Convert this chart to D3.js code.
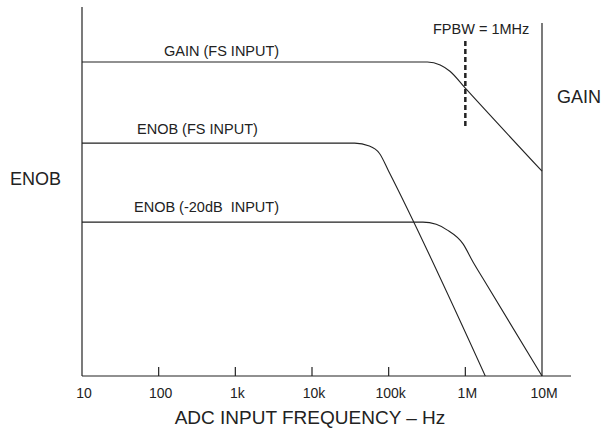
<!DOCTYPE html>
<html>
<head>
<meta charset="utf-8">
<script src="https://cdn.jsdelivr.net/npm/d3@7"></script>
<style>
  html, body { margin: 0; padding: 0; background: #fff; }
  svg { display: block; font-family: "Liberation Sans", Arial, sans-serif; }
</style>
</head>
<body>
<div id="chart"></div>
<script>
// tick labels along the frequency axis
const tickFreqs = [10, 100, 1e3, 1e4, 1e5, 1e6, 1e7];
const tickLabels = ["10", "100", "1k", "10k", "100k", "1M", "10M"];

// curves: frequency (Hz) and relative level (arbitrary units, 0 = bottom axis)
const gainFreq  = [10, 3.2e5, 4.7e5, 6.3e5, 1e6, 1e7];
const gainVal   = [85.1, 85.1, 84.3, 82.6, 78.0, 55.5];
const enobFsFreq = [10, 3.6e4, 5.6e4, 7.6e4, 1e5, 1.82e6];
const enobFsVal  = [63.1, 63.1, 62.3, 60.3, 55.5, 0];
const enob20Freq = [10, 2.8e5, 4.17e5, 5.75e5, 9.33e5, 1.26e6, 1.7e6, 1e7];
const enob20Val  = [41.7, 41.7, 41.1, 39.6, 35.8, 30.9, 26.4, 0];

const fpbw = 1e6;

(function() {
    const width = 614, height = 428;
    const svg = d3.select("#chart").append("svg")
        .attr("width", width).attr("height", height);

    const x = d3.scaleLog().domain([10, 1e7]).range([82, 542]);
    const y = d3.scaleLinear().domain([0, 100]).range([376, 7]);
    const ink = "#222";

    // frame: left axis, bottom axis, right GAIN axis
    svg.append("line")
        .attr("x1", x(10)).attr("x2", x(10))
        .attr("y1", y(100)).attr("y2", y(0))
        .attr("stroke", ink).attr("stroke-width", 1.2);
    svg.append("line")
        .attr("x1", x(10)).attr("x2", 571)
        .attr("y1", y(0)).attr("y2", y(0))
        .attr("stroke", ink).attr("stroke-width", 1.2);
    svg.append("line")
        .attr("x1", x(1e7)).attr("x2", x(1e7))
        .attr("y1", 23).attr("y2", y(0))
        .attr("stroke", ink).attr("stroke-width", 1.2);

    // ticks (pointing up)
    tickFreqs.slice(1, -1).forEach(f => {
        svg.append("line")
            .attr("x1", x(f)).attr("x2", x(f))
            .attr("y1", y(0) - 9).attr("y2", y(0))
            .attr("stroke", ink).attr("stroke-width", 1.2);
    });
    tickFreqs.forEach((f, i) => {
        svg.append("text")
            .attr("x", x(f) + 2).attr("y", 398)
            .attr("text-anchor", "middle")
            .attr("fill", ink)
            .style("font-size", "14px")
            .text(tickLabels[i]);
    });

    // curves
    const line = d3.line()
        .x(d => x(d[0]))
        .y(d => y(d[1]))
        .curve(d3.curveMonotoneX);

    const series = [
        { f: gainFreq, v: gainVal, label: "GAIN (FS INPUT)", lx: 164, ly: 56 },
        { f: enobFsFreq, v: enobFsVal, label: "ENOB (FS INPUT)", lx: 137, ly: 134 },
        { f: enob20Freq, v: enob20Val, label: "ENOB (-20dB  INPUT)", lx: 134, ly: 212 }
    ];

    series.forEach(s => {
        svg.append("path")
            .datum(d3.zip(s.f, s.v))
            .attr("d", line)
            .attr("fill", "none")
            .attr("stroke", ink)
            .attr("stroke-width", 1.1);
        svg.append("text")
            .attr("x", s.lx).attr("y", s.ly)
            .attr("fill", ink)
            .style("font-size", "14.5px")
            .style("white-space", "pre")
            .text(s.label);
    });

    // full power bandwidth marker
    svg.append("line")
        .attr("x1", x(fpbw)).attr("x2", x(fpbw))
        .attr("y1", 41).attr("y2", 128)
        .attr("stroke", ink)
        .attr("stroke-width", 2.5)
        .attr("stroke-dasharray", "5,3");
    svg.append("text")
        .attr("x", 433).attr("y", 34)
        .attr("fill", ink)
        .style("font-size", "14.5px")
        .text("FPBW = 1MHz");

    // side and axis titles
    svg.append("text")
        .attr("x", 10).attr("y", 185)
        .attr("fill", ink)
        .style("font-size", "18px")
        .text("ENOB");
    svg.append("text")
        .attr("x", 557).attr("y", 103)
        .attr("fill", ink)
        .style("font-size", "18px")
        .text("GAIN");
    svg.append("text")
        .attr("x", 310).attr("y", 424)
        .attr("text-anchor", "middle")
        .attr("fill", ink)
        .style("font-size", "19px")
        .text("ADC INPUT FREQUENCY – Hz");
})();
</script>
</body>
</html>
